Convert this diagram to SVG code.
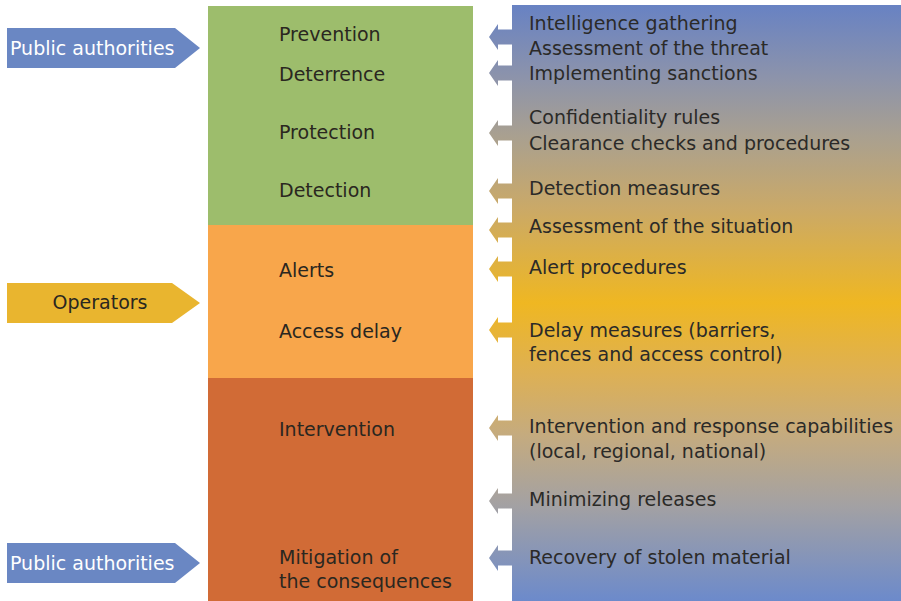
<svg xmlns="http://www.w3.org/2000/svg" width="901" height="601" viewBox="0 0 901 601">
  <defs>
    <!-- vertical blue-to-yellow-to-blue wash shared by the panel and its arrows -->
    <linearGradient id="panelGrad" gradientUnits="userSpaceOnUse" x1="0" y1="5" x2="0" y2="601">
      <stop offset="0" stop-color="#6882c3"/>
      <stop offset="0.12" stop-color="#8c93ab"/>
      <stop offset="0.22" stop-color="#a9a090"/>
      <stop offset="0.34" stop-color="#caa968"/>
      <stop offset="0.5" stop-color="#efb722"/>
      <stop offset="0.62" stop-color="#ddb055"/>
      <stop offset="0.72" stop-color="#c5ab7e"/>
      <stop offset="0.84" stop-color="#a3a1a3"/>
      <stop offset="1" stop-color="#6c8acb"/>
    </linearGradient>
  </defs>
  <style>
    text { font-family: "DejaVu Sans", "Noto Sans", sans-serif; font-size: 19px; }
    .dark { fill: #2a2720; }
    .measure { fill: #2b2a28; }
    .white { fill: #ffffff; }
    .arrow { fill: url(#panelGrad); }
  </style>

  <rect x="0" y="0" width="901" height="601" fill="#ffffff"/>

  <!-- security phases column -->
  <g id="phases">
    <rect x="208" y="6" width="265" height="219" fill="#9dbd6c"/>
    <rect x="208" y="225" width="265" height="153" fill="#f8a64b"/>
    <rect x="208" y="378" width="265" height="223" fill="#d16b36"/>
    <text class="dark" x="279" y="41">Prevention</text>
    <text class="dark" x="279" y="81">Deterrence</text>
    <text class="dark" x="279" y="139">Protection</text>
    <text class="dark" x="279" y="197">Detection</text>
    <text class="dark" x="279" y="277">Alerts</text>
    <text class="dark" x="279" y="338">Access delay</text>
    <text class="dark" x="279" y="436">Intervention</text>
    <text class="dark" x="279" y="564">Mitigation of</text>
    <text class="dark" x="279" y="588">the consequences</text>
  </g>

  <!-- measures panel -->
  <g id="measures">
    <rect x="512" y="5" width="389" height="596" fill="url(#panelGrad)"/>
    <text class="measure" x="529" y="30">Intelligence gathering</text>
    <text class="measure" x="529" y="55">Assessment of the threat</text>
    <text class="measure" x="529" y="80">Implementing sanctions</text>
    <text class="measure" x="529" y="124">Confidentiality rules</text>
    <text class="measure" x="529" y="150">Clearance checks and procedures</text>
    <text class="measure" x="529" y="195">Detection measures</text>
    <text class="measure" x="529" y="233">Assessment of the situation</text>
    <text class="measure" x="529" y="274">Alert procedures</text>
    <text class="measure" x="529" y="337">Delay measures (barriers,</text>
    <text class="measure" x="529" y="361">fences and access control)</text>
    <text class="measure" x="529" y="433">Intervention and response capabilities</text>
    <text class="measure" x="529" y="458">(local, regional, national)</text>
    <text class="measure" x="529" y="506">Minimizing releases</text>
    <text class="measure" x="529" y="564">Recovery of stolen material</text>
  </g>

  <!-- actor tags -->
  <g id="actor-public-top">
    <path d="M7,28 L175,28 L200,48 L175,68 L7,68 Z" fill="#6a87c3"/>
    <text class="white" x="10" y="55">Public authorities</text>
  </g>
  <g id="actor-operators">
    <path d="M7,283 L172,283 L200,303 L172,323 L7,323 Z" fill="#e9b52f"/>
    <text class="dark" x="100" y="309" text-anchor="middle">Operators</text>
  </g>
  <g id="actor-public-bottom">
    <path d="M7,543 L175,543 L200,563 L175,583 L7,583 Z" fill="#6a87c3"/>
    <text class="white" x="10" y="570">Public authorities</text>
  </g>

  <!-- connectors from measures into the phase column (absolute coordinates so the wash lines up) -->
  <g id="connectors" class="arrow">
    <path d="M489,37 l9,-13 v5.5 h15 v15 h-15 v5.5 Z"/>
    <path d="M489,73 l9,-13 v5.5 h15 v15 h-15 v5.5 Z"/>
    <path d="M489,133 l9,-13 v5.5 h15 v15 h-15 v5.5 Z"/>
    <path d="M489,191 l9,-13 v5.5 h15 v15 h-15 v5.5 Z"/>
    <path d="M489,230 l9,-13 v5.5 h15 v15 h-15 v5.5 Z"/>
    <path d="M489,269 l9,-13 v5.5 h15 v15 h-15 v5.5 Z"/>
    <path d="M489,330 l9,-13 v5.5 h15 v15 h-15 v5.5 Z"/>
    <path d="M489,428 l9,-13 v5.5 h15 v15 h-15 v5.5 Z"/>
    <path d="M489,501 l9,-13 v5.5 h15 v15 h-15 v5.5 Z"/>
    <path d="M489,558 l9,-13 v5.5 h15 v15 h-15 v5.5 Z"/>
  </g>
</svg>
